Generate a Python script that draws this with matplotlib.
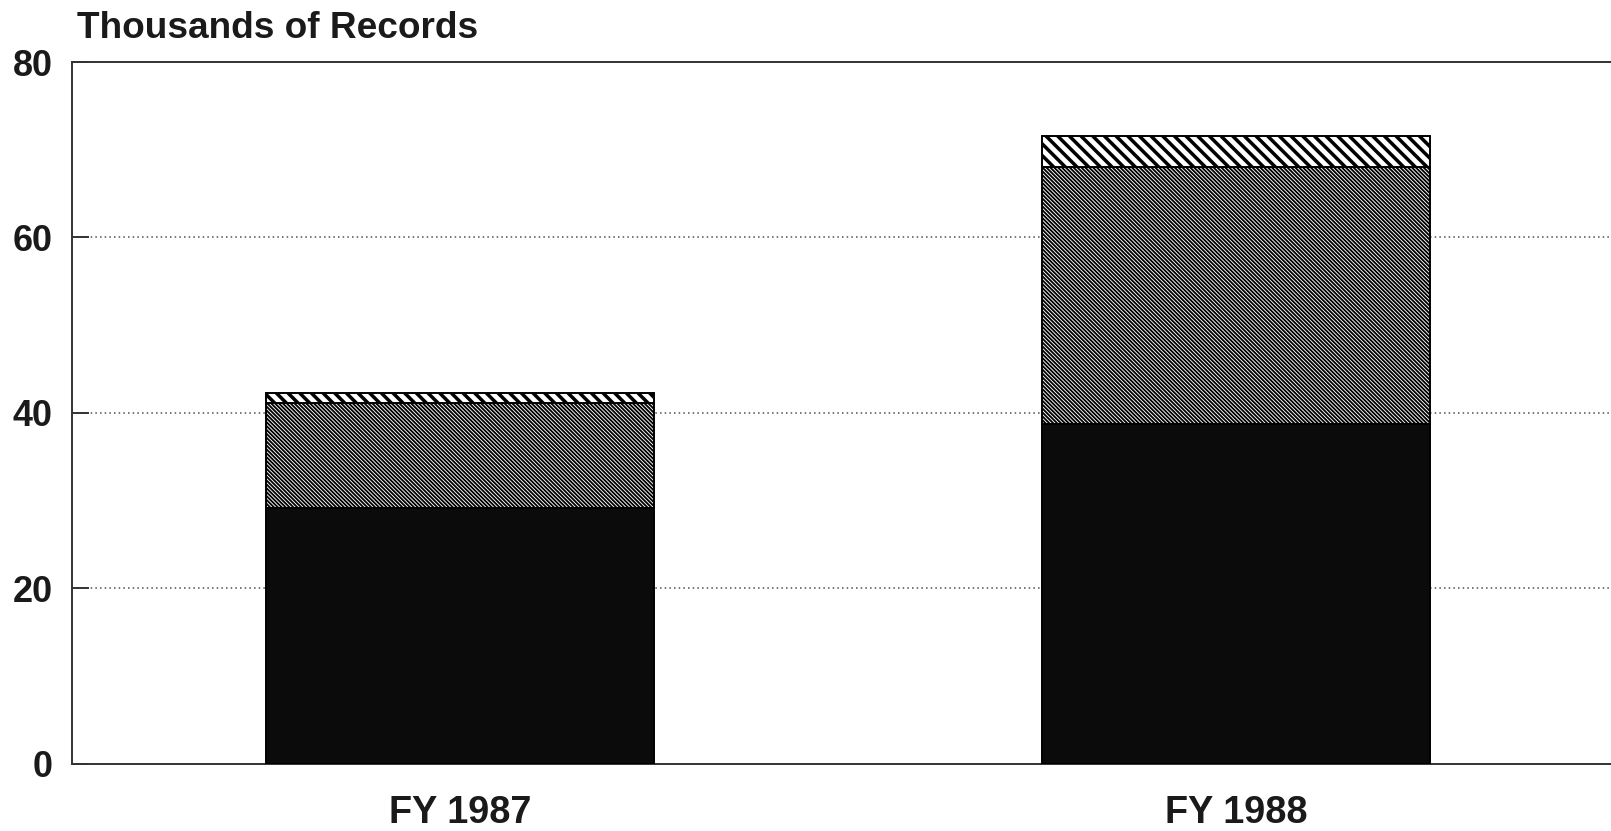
import matplotlib
matplotlib.use("Agg")
import matplotlib.pyplot as plt
import numpy as np

categories = ["FY 1987", "FY 1988"]
seg_bottom = [29.1, 38.7]
seg_middle = [12.0, 29.35]
seg_top = [1.1, 3.5]
yticks = [0, 20, 40, 60, 80]
title = "Thousands of Records"

DPI = 140
plt.rcParams['font.family'] = ['Liberation Sans', 'DejaVu Sans']
fig = plt.figure(figsize=(1611 / DPI, 831 / DPI), dpi=DPI)
W, H = 1611, 831
ax = fig.add_axes([72 / W, 1 - 763.5 / H, 1552 / W, (763.5 - 62) / H])

x = np.arange(len(categories))
bw = 0.5


def set_hlw(bars, lw):
    for p in bars:
        if hasattr(p, "set_hatch_linewidth"):
            p.set_hatch_linewidth(lw)


plt.rcParams['hatch.linewidth'] = 1.0
b1 = ax.bar(x, seg_bottom, width=bw, color='#0b0b0b', edgecolor='black',
            linewidth=1.0, zorder=3)
plt.rcParams['hatch.linewidth'] = 0.95
b2 = ax.bar(x, seg_middle, width=bw, bottom=seg_bottom, color='white',
            edgecolor='black', hatch='\\' * 12, linewidth=1.0, zorder=3)
set_hlw(b2, 0.95)
plt.rcParams['hatch.linewidth'] = 1.8
b3 = ax.bar(x, seg_top, width=bw, bottom=np.add(seg_bottom, seg_middle),
            color='white', edgecolor='black', hatch='\\' * 4, linewidth=1.0,
            zorder=3)
set_hlw(b3, 1.8)

ax.set_xlim(-0.5, 1.5)
ax.set_ylim(0, 80)
ax.set_yticks(yticks)
ax.set_yticklabels([str(v) for v in yticks], fontsize=18.5, fontweight='bold',
                   color='#1a1a1a')
ax.set_xticks(x)
ax.set_xticklabels(categories, fontsize=19.5, fontweight='bold', color='#1a1a1a')
ax.tick_params(axis='y', direction='in', length=8.5, width=1.0, pad=10,
               color='#333333')
ax.tick_params(axis='x', length=0, pad=16)
ax.grid(axis='y', linestyle=(0, (1, 2)), linewidth=0.8, color='#555555',
        zorder=1)
for s in ['left', 'top', 'bottom']:
    ax.spines[s].set_color('#333333')
    ax.spines[s].set_linewidth(1.0)
ax.spines['right'].set_visible(False)

fig.text(77 / W, 1 - 38 / H, title, fontsize=19, fontweight='bold',
         color='#1a1a1a', ha='left', va='baseline')

fig.savefig("out.png", dpi=DPI, facecolor='white')
